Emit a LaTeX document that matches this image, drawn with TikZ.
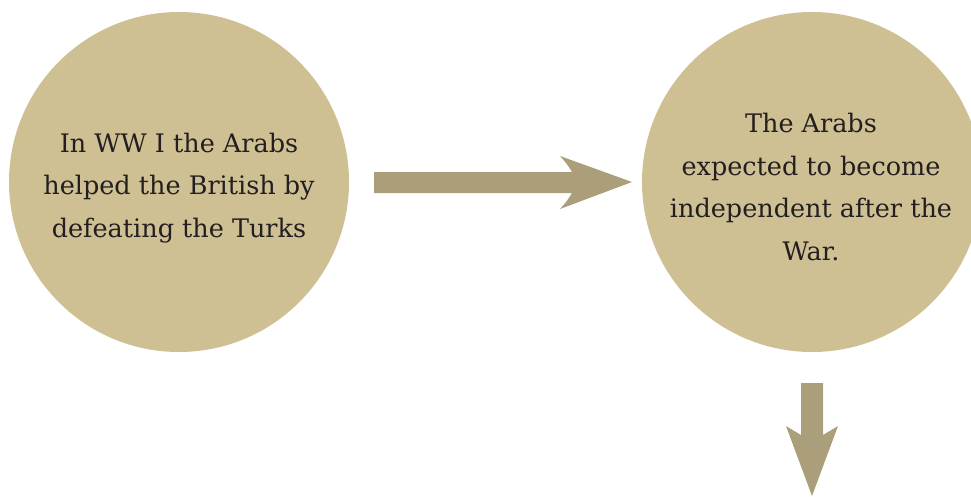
\documentclass[tikz,border=0pt]{standalone}
\usepackage{fontspec}
\setmainfont{DejaVu Serif}
\definecolor{circfill}{RGB}{207,192,148}
\definecolor{arrfill}{RGB}{170,159,122}
\definecolor{txt}{RGB}{35,31,32}
\begin{document}
\begin{tikzpicture}[x=1pt,y=-1pt,
  bubble/.style={circle,fill=circfill,draw=none,minimum size=340pt,inner sep=0pt},
  label/.style={font=\fontsize{25.5}{42.5}\selectfont,text=txt,align=center},
  arrowshape/.style={fill=arrfill,draw=none}]
\useasboundingbox (0,0) rectangle (971,496);
\node[bubble] (left) at (179,182) {};
\node[bubble] (right) at (812,182) {};
\node[label] (lt) at (179,188) {In WW I the Arabs\\helped the British by\\defeating the Turks};
\node[label] (rt) at (811,187) {The Arabs\\expected to become\\independent after the\\War.};
% right arrow
\fill[arrowshape] (374,172) -- (572,172) .. controls (567,164) .. (560,156) -- (632,182) -- (560,209) .. controls (567,201) .. (572,193) -- (374,193) -- cycle;
% down arrow
\fill[arrowshape] (801,383) -- (823,383) -- (823,435) .. controls (830,430) .. (838,426) -- (812,496) -- (786,426) .. controls (794,430) .. (801,435) -- cycle;
\end{tikzpicture}
\end{document}
